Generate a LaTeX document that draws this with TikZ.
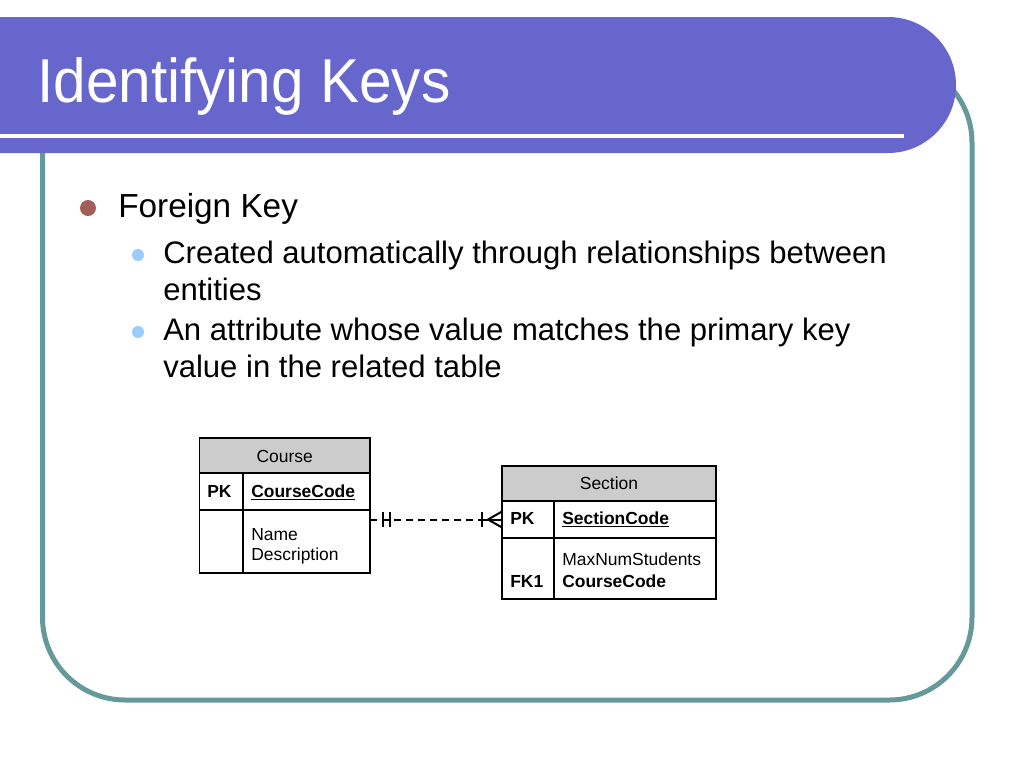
\documentclass[tikz,border=0pt]{standalone}
\usepackage{fontspec}
\setmainfont{Liberation Sans}
\usetikzlibrary{calc}
\definecolor{barpurple}{RGB}{102,102,204}
\definecolor{frameteal}{RGB}{102,153,153}
\definecolor{dotbrown}{RGB}{163,94,90}
\definecolor{dotblue}{RGB}{153,204,255}
\definecolor{hdrgray}{RGB}{204,204,204}
\newcommand{\keyul}[1]{\begingroup\setbox0\hbox{\bfseries #1}\rlap{\rule[-2.4pt]{\wd0}{0.9pt}}\box0\endgroup}
\begin{document}
\begin{tikzpicture}[x=0.75pt,y=-0.75pt,
  cell/.style={draw=black, line width=0.9pt, anchor=north west, inner sep=0pt, outer sep=0pt},
  hdrcell/.style={cell, fill=hdrgray},
  ttext/.style={font=\fontsize{13.1}{15}\selectfont, inner sep=0pt, anchor=base west},
  tcenter/.style={ttext, anchor=base},
  lvlone/.style={font=\fontsize{25}{30}\selectfont, inner sep=0pt, anchor=base west},
  lvltwo/.style={font=\fontsize{23.3}{28}\selectfont, inner sep=0pt, anchor=base west},
  conn/.style={line width=1.5pt, black},
  connbar/.style={line width=1.8pt, black}]
\useasboundingbox (0,0) rectangle (1024,768);
\fill[white] (0,0) rectangle (1024,768);
% frame
\draw[frameteal, line width=3.75pt, rounded corners=62pt] (42.5,60) rectangle (972,700);
% title bar
\fill[barpurple] (0,17) -- (888,17) arc[start angle=90, end angle=-90, radius=51pt] -- (0,153) -- cycle;
\draw[white, line width=3pt] (0,136) -- (904,136);
\node[anchor=base west, inner sep=0pt, text=white, font=\fontsize{46.5}{50}\selectfont, xscale=0.944] (title) at (37,102) {Identifying Keys};
% bullets
\fill[dotbrown] (88,208) circle[radius=6pt];
\fill[dotblue] (138,255) circle[radius=4.5pt];
\fill[dotblue] (138,332) circle[radius=4.5pt];
\node[lvlone] (fk) at (118,217) {Foreign Key};
\node[lvltwo] (b1a) at (163,263) {Created automatically through relationships between};
\node[lvltwo] (b1b) at (163,300) {entities};
\node[lvltwo] (b2a) at (163,340) {An attribute whose value matches the primary key};
\node[lvltwo] (b2b) at (163,377) {value in the related table};
% Course table
\node[hdrcell, minimum width=127.875pt, minimum height=26.25pt] (courseH) at (199.5,438) {};
\node[cell, minimum width=32.625pt, minimum height=27.75pt] (courseK1) at (199.5,473) {};
\node[cell, minimum width=95.25pt, minimum height=27.75pt] (courseA1) at (243,473) {};
\node[cell, minimum width=32.625pt, minimum height=47.25pt] (courseK2) at (199.5,510) {};
\node[cell, minimum width=95.25pt, minimum height=47.25pt] (courseA2) at (243,510) {};
\node[tcenter] (courseT) at (284.75,462) {Course};
\node[ttext, font=\fontsize{13.1}{15}\selectfont\bfseries] (coursePK) at (207,497) {PK};
\node[ttext] (courseCC) at (251,497) {\keyul{CourseCode}};
\node[ttext] (courseN) at (251,540) {Name};
\node[ttext] (courseD) at (251,560) {Description};
% Section table
\node[hdrcell, minimum width=160.5pt, minimum height=26.25pt] (secH) at (502,466) {};
\node[cell, minimum width=39pt, minimum height=27.75pt] (secK1) at (502,501) {};
\node[cell, minimum width=121.5pt, minimum height=27.75pt] (secA1) at (554,501) {};
\node[cell, minimum width=39pt, minimum height=45.75pt] (secK2) at (502,538) {};
\node[cell, minimum width=121.5pt, minimum height=45.75pt] (secA2) at (554,538) {};
\node[tcenter] (secT) at (609,489) {Section};
\node[ttext, font=\fontsize{13.1}{15}\selectfont\bfseries] (secPK) at (510,524) {PK};
\node[ttext] (secSC) at (562,524) {\keyul{SectionCode}};
\node[ttext] (secM) at (562,565) {MaxNumStudents};
\node[ttext, font=\fontsize{13.1}{15}\selectfont\bfseries] (secFK) at (510,587) {FK1};
\node[ttext, font=\fontsize{13.1}{15}\selectfont\bfseries] (secCC) at (562,587) {CourseCode};
% relationship
\coordinate (cstart) at (courseA2.east |- secK1.west);
\draw[conn, dash pattern=on 5.25pt off 3.75pt] (cstart) -- ($(secK1.west)+(-20,0)$);
\draw[conn] ($(cstart)+(13,0)$) -- ($(cstart)+(20,0)$);
\draw[connbar] ($(cstart)+(13,-7.5)$) -- ($(cstart)+(13,7.5)$);
\draw[connbar] ($(cstart)+(20,-7.5)$) -- ($(cstart)+(20,7.5)$);
\draw[conn] ($(secK1.west)+(-20,0)$) -- (secK1.west);
\draw[connbar] ($(secK1.west)+(-20,-7.5)$) -- ($(secK1.west)+(-20,7.5)$);
\draw[conn] ($(secK1.west)+(0,-8)$) -- ($(secK1.west)+(-14,0)$) -- ($(secK1.west)+(0,8)$);
\end{tikzpicture}
\end{document}
